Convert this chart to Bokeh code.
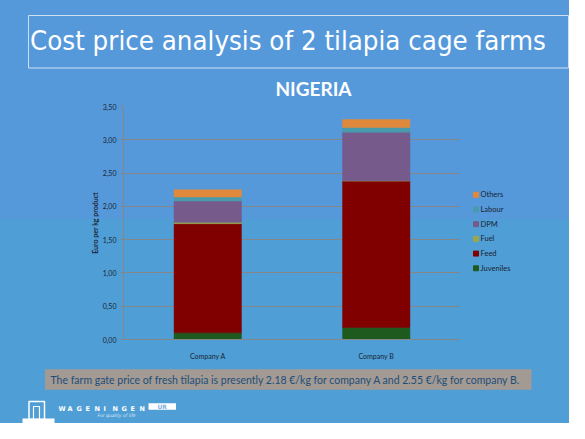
import numpy as np
from bokeh.plotting import figure
from bokeh.layouts import column, row
from bokeh.models import (ColumnDataSource, FixedTicker, FactorRange, Range1d)
from bokeh.core.properties import value
from bokeh.embed import file_html
from bokeh.resources import INLINE

# ---- data ----
companies = ["Company A", "Company B"]
components = ["Juveniles", "Feed", "Fuel", "DPM", "Labour", "Others"]
juveniles = [0.10, 0.18]
feed = [1.64, 2.20]
fuel = [0.02, 0.005]
dpm = [0.32, 0.73]
labour = [0.06, 0.07]
others = [0.11, 0.12]
colors = ["#1E5A1E", "#800000", "#9AA84A", "#775A8C", "#4A9AAE", "#E0893C"]
y_ticks = [0.0, 0.5, 1.0, 1.5, 2.0, 2.5, 3.0, 3.5]
y_tick_labels = ["0,00", "0,50", "1,00", "1,50", "2,00", "2,50", "3,00", "3,50"]
slide_title = "Cost price analysis of 2 tilapia cage farms"
chart_title = "NIGERIA"
y_label = "Euro per kg product"
footer = "The farm gate price of fresh tilapia is presently 2.18 \u20ac/kg for company A and 2.55 \u20ac/kg for company B."
logo_word = "WAGENINGEN"

W = 569
UPPER = "#5599DB"
LOWER = "#4F9ED6"
TXT = "#1a2535"


def blank(width, height, x0, x1, y0, y1):
    f = figure(width=width, height=height, x_range=Range1d(x0, x1), y_range=Range1d(y1, y0),
               output_backend="svg", toolbar_location=None, x_axis_type=None, y_axis_type=None,
               min_border=0, frame_align=False)
    f.grid.visible = False
    f.outline_line_color = None
    f.background_fill_alpha = 0
    f.border_fill_alpha = 0
    return f


# ---- top band: slide title ----
top = blank(W, 100, 8, 577, 8, 108)
top.quad(left=[36], right=[576], top=[23], bottom=[75.5], fill_alpha=0,
         line_color="#cfe0f2", line_width=1)
top.text(x=[37.5], y=[47.7], text=[slide_title], text_font=value("DejaVu Sans Condensed"),
         text_font_size="27.4px", text_color="white", text_baseline="alphabetic")
top.text(x=[321], y=[96], text=[chart_title], text_font=value("Lato"), text_font_style="bold",
         text_font_size="19px", text_color="white", text_align="center", text_baseline="alphabetic")

# ---- chart ----
src = ColumnDataSource(dict(company=companies, Juveniles=juveniles, Feed=feed, Fuel=fuel,
                            DPM=dpm, Labour=labour, Others=others))

p = figure(width=460, height=262, x_range=FactorRange(*companies, range_padding=0.0), y_range=(0, 3.5),
           output_backend="svg", toolbar_location=None, frame_align=False,
           min_border_left=123, min_border_right=0, min_border_top=6, min_border_bottom=17)
p.background_fill_alpha = 0
p.border_fill_alpha = 0
p.outline_line_color = None

p.vbar_stack(components, x="company", width=0.40, source=src, color=colors,
             line_color=colors, line_width=0.5)

for ax in (p.xaxis[0], p.yaxis[0]):
    ax.axis_line_color = "#868686"
    ax.major_label_text_color = TXT
    ax.major_label_text_font = "Lato"
    ax.major_label_text_font_size = "7px"
p.yaxis.ticker = FixedTicker(ticks=y_ticks)
p.yaxis.major_label_overrides = {t: l for t, l in zip(y_ticks, y_tick_labels)}
p.yaxis.major_tick_line_color = "#868686"
p.yaxis.major_tick_out = 3
p.yaxis.major_tick_in = 0
p.yaxis.minor_tick_line_color = None
p.yaxis.major_label_standoff = 4
p.yaxis.axis_label = y_label
p.yaxis.axis_label_text_font_size = "7px"
p.yaxis.axis_label_text_font_style = "bold"
p.yaxis.axis_label_text_font = "Lato"
p.yaxis.axis_label_text_color = TXT
p.yaxis.axis_label_standoff = 1
p.xaxis.major_tick_line_color = None
p.xaxis.minor_tick_line_color = None
p.xaxis.major_label_standoff = 6
p.xgrid.grid_line_color = None
p.ygrid.grid_line_color = "#868686"
p.ygrid.grid_line_width = 1

# ---- legend panel (right of the chart) ----
legfig = blank(W - 460, 262, 468, 577, 108, 370)
order = list(range(len(components)))[::-1]          # Others on top, Juveniles at bottom
leg_src = ColumnDataSource(dict(
    y=202.3 + 14.7 * np.arange(len(order)),
    label=[components[i] for i in order],
    color=[colors[i] for i in order]))
legfig.scatter(x=483.5, y="y", marker="square", size=5, color="color", source=leg_src)
legfig.text(x=488, y="y", text="label", text_font=value("Lato"), text_font_size="7.5px",
            text_color=TXT, text_baseline="middle", source=leg_src)

# ---- bottom band: footer + logo ----
bot = blank(W, 61, 8, 577, 370, 431)
bot.quad(left=[52.5], right=[539], top=[376.7], bottom=[397.3], fill_color="#A29A93", line_color=None)
bot.text(x=[58], y=[387.5], text=[footer], text_font=value("Lato"), text_font_size="10.5px",
         text_color="#1F4E79", text_baseline="middle")
letters = list(logo_word)
bot.text(x=66 + 9 * np.arange(len(letters)), y=[416.7] * len(letters), text=letters,
         text_font=value("DejaVu Sans"), text_font_style="bold", text_font_size="6.5px",
         text_color="white", text_baseline="alphabetic")
bot.quad(left=[156], right=[183.5], top=[410.7], bottom=[417.3], fill_color="white", line_color=None)
bot.text(x=[169.7], y=[414], text=["UR"], text_font=value("DejaVu Sans"), text_font_style="bold",
         text_font_size="6px", text_color="#7fb0e0", text_align="center", text_baseline="middle")
bot.text(x=[105], y=[422.5], text=["For quality of life"], text_font=value("DejaVu Sans"),
         text_font_style="italic", text_font_size="4.5px", text_color="#d8e6f5",
         text_baseline="alphabetic")
bot.quad(left=[36.5], right=[52], top=[409], bottom=[427], fill_alpha=0, line_color="white", line_width=1.5)
bot.quad(left=[41], right=[47], top=[414], bottom=[427], fill_alpha=0, line_color="white", line_width=1.2)
bot.quad(left=[30], right=[62], top=[426], bottom=[431], fill_color="white", line_color=None)

layout = column(top, row(p, legfig, spacing=0), bot, spacing=0,
                styles={"background": "linear-gradient(to bottom, %s 0px, %s 219px, %s 219px, %s 100%%)"
                        % (UPPER, UPPER, LOWER, LOWER)})

open("out.html", "w").write(file_html(layout, INLINE))
